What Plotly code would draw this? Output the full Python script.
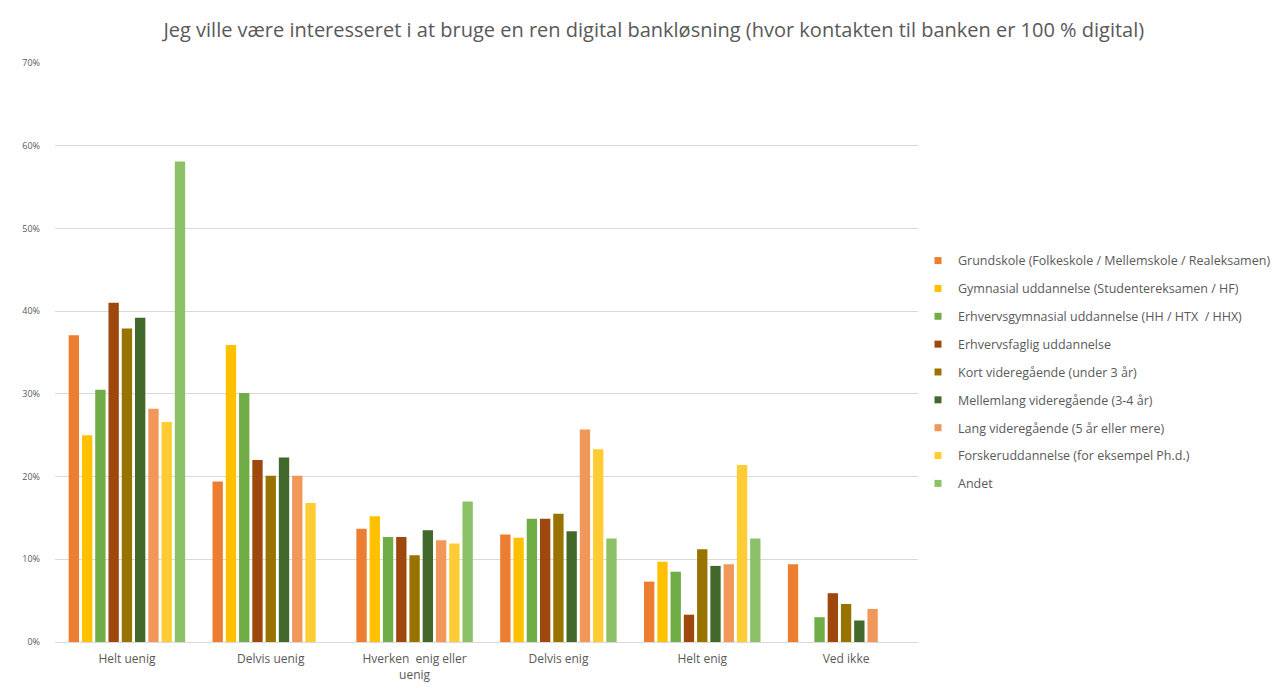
import plotly.graph_objects as go

categories = ["Helt uenig", "Delvis uenig", "Hverken  enig eller<br>uenig", "Delvis enig", "Helt enig", "Ved ikke"]

series_names = [
    "Grundskole (Folkeskole / Mellemskole / Realeksamen)",
    "Gymnasial uddannelse (Studentereksamen / HF)",
    "Erhvervsgymnasial uddannelse (HH / HTX  / HHX)",
    "Erhvervsfaglig uddannelse",
    "Kort videregående (under 3 år)",
    "Mellemlang videregående (3-4 år)",
    "Lang videregående (5 år eller mere)",
    "Forskeruddannelse (for eksempel Ph.d.)",
    "Andet",
]

grundskole   = [0.371, 0.194, 0.137, 0.130, 0.073, 0.094]
gymnasial    = [0.250, 0.359, 0.152, 0.126, 0.097, 0.0]
erhvervsgym  = [0.305, 0.301, 0.127, 0.149, 0.085, 0.030]
erhvervsfag  = [0.410, 0.220, 0.127, 0.149, 0.033, 0.059]
kort         = [0.379, 0.201, 0.105, 0.155, 0.112, 0.046]
mellemlang   = [0.392, 0.223, 0.135, 0.134, 0.092, 0.026]
lang         = [0.282, 0.201, 0.123, 0.257, 0.094, 0.040]
forsker      = [0.266, 0.168, 0.119, 0.233, 0.214, 0.0]
andet        = [0.581, 0.0, 0.170, 0.125, 0.125, 0.0]

series_values = [grundskole, gymnasial, erhvervsgym, erhvervsfag, kort, mellemlang, lang, forsker, andet]
colors = ["#ED7D31", "#FFC000", "#70AD47", "#9E480E", "#997300", "#43682B", "#F1975A", "#FFCD33", "#8CC168"]

tick_vals = [0, 0.1, 0.2, 0.3, 0.4, 0.5, 0.6, 0.7]
tick_text = ["0%", "10%", "20%", "30%", "40%", "50%", "60%", "70%"]

fig = go.Figure()
for name, vals, col in zip(series_names, series_values, colors):
    fig.add_trace(go.Bar(x=categories, y=vals, name=name, marker_color=col,
                         marker_line_width=0, showlegend=False))
# legend entries with small square swatches
for name, col in zip(series_names, colors):
    fig.add_trace(go.Scatter(x=[None], y=[None], mode="markers", name=name,
                             marker=dict(symbol="square", size=7, color=col),
                             legendgroup=name, showlegend=True))

fig.update_layout(
    width=1287, height=688,
    margin=dict(l=55, r=369, t=63, b=46, autoexpand=False),
    paper_bgcolor="white", plot_bgcolor="white",
    font=dict(family="Open Sans, Liberation Sans, sans-serif", color="#595959"),
    title=dict(text="Jeg ville være interesseret i at bruge en ren digital bankløsning (hvor kontakten til banken er 100 % digital)",
               x=0.508, xanchor="center", y=0.957, yanchor="middle",
               font=dict(size=20, color="#595959")),
    barmode="group", bargap=0.17, bargroupgap=0.22,
    legend=dict(x=1.0, xanchor="left", y=0.684, yanchor="top",
                font=dict(size=12.5, color="#595959"), tracegroupgap=8.6,
                bgcolor="rgba(0,0,0,0)"),
    showlegend=True,
)
fig.update_yaxes(range=[0, 0.7], tickvals=tick_vals, ticktext=tick_text,
                 showgrid=True, gridcolor="#D9D9D9", gridwidth=1, zeroline=False,
                 showline=False, tickfont=dict(size=9, color="#595959"), ticklen=0,
                 ticks="", ticklabelstandoff=14, automargin=False)
fig.update_xaxes(showline=True, linecolor="#D9D9D9", linewidth=1, showgrid=False,
                 tickfont=dict(size=12, color="#595959"), ticks="", ticklabelstandoff=6,
                 automargin=False)

fig.write_html("out.html")
